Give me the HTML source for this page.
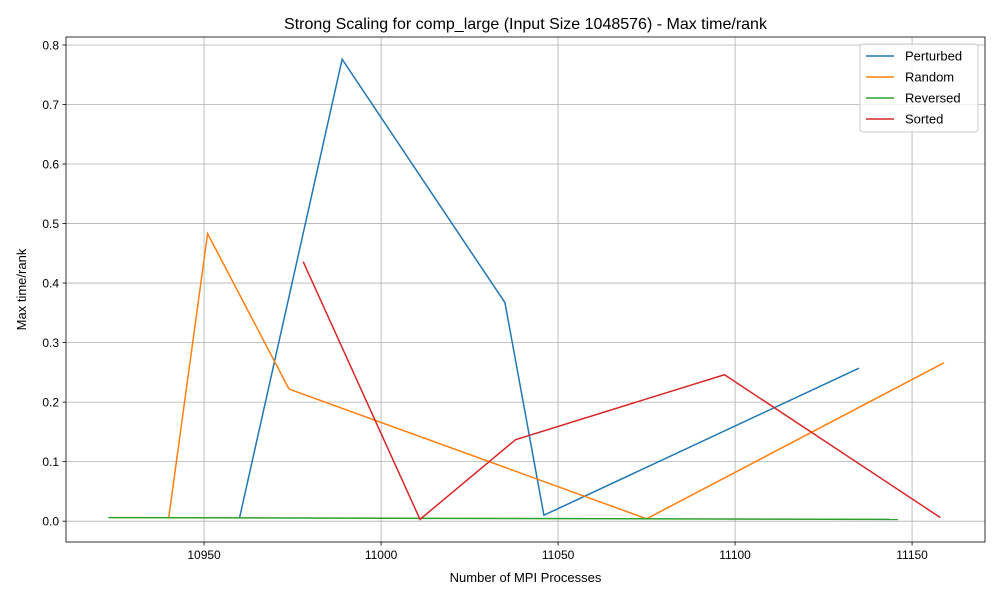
<!DOCTYPE html>
<html><head><meta charset="utf-8"><style>
body{margin:0;background:#fff;}
svg text{font-family:"Liberation Sans","DejaVu Sans",sans-serif;fill:#000;}
</style></head><body>
<svg id="chart" width="1000" height="600" xmlns="http://www.w3.org/2000/svg">
<rect width="1000" height="600" fill="#fff"/>
<g id="grid"></g><g id="series"></g><g id="axes"></g>
</svg>
<script>
const seriesNames=["Perturbed","Random","Reversed","Sorted"];
const seriesColors=["#1f77b4","#ff7f0e","#2ca02c","#d62728"];
const perturbedX=[10960,10989,11035,11046,11135];
const perturbedY=[0.005,0.776,0.367,0.010,0.257];
const randomX=[10940,10951,10974,11075,11159];
const randomY=[0.005,0.483,0.222,0.004,0.266];
const reversedX=[10923,11146];
const reversedY=[0.006,0.003];
const sortedX=[10978,11011,11038,11097,11158];
const sortedY=[0.436,0.003,0.137,0.246,0.006];
const xTicks=[10950,11000,11050,11100,11150];
const yTicks=[0.0,0.1,0.2,0.3,0.4,0.5,0.6,0.7,0.8];

const L=66,R=985,T=37,B=542;
const xMin=10911.0,xMax=11170.6,yMin=-0.035,yMax=0.8134;
const sx=v=>L+(v-xMin)/(xMax-xMin)*(R-L);
const sy=v=>B-(v-yMin)/(yMax-yMin)*(B-T);
const NS="http://www.w3.org/2000/svg";
function mk(tag,attrs,parent){const e=document.createElementNS(NS,tag);for(const k in attrs)e.setAttribute(k,attrs[k]);parent.appendChild(e);return e;}
const grid=document.getElementById('grid'),axes=document.getElementById('axes'),ser=document.getElementById('series');
xTicks.forEach(t=>{const x=sx(t);
 const g=mk('line',{x1:x,x2:x,y1:T,y2:B,stroke:'#b0b0b0','stroke-width':0.8},grid);
 
 
 mk('line',{x1:x,x2:x,y1:B,y2:B+3.5,stroke:'#000','stroke-width':0.8},axes);
 const tx=mk('text',{x:x,y:B+17,'text-anchor':'middle','font-size':12},axes);tx.textContent=t;
 
 
});
yTicks.forEach(t=>{const y=sy(t);
 const g=mk('line',{x1:L,x2:R,y1:y,y2:y,stroke:'#b0b0b0','stroke-width':0.8},grid);
 
 
 mk('line',{x1:L-3.5,x2:L,y1:y,y2:y,stroke:'#000','stroke-width':0.8},axes);
 const tx=mk('text',{x:L-7,y:y+4.5,'text-anchor':'end','font-size':12},axes);tx.textContent=t.toFixed(1);
 
 
});
const frame=mk('rect',{x:L,y:T,width:R-L,height:B-T,fill:'none',stroke:'#000','stroke-width':0.8},axes);


const xs=[perturbedX,randomX,reversedX,sortedX],ys=[perturbedY,randomY,reversedY,sortedY];
xs.forEach((X,i)=>{
 const p=mk('polyline',{points:X.map((v,j)=>sx(v)+','+sy(ys[i][j])).join(' '),fill:'none',stroke:seriesColors[i],'stroke-width':1.5},ser);
 
 
});
const title=mk('text',{x:(L+R)/2,y:29,'text-anchor':'middle','font-size':16},axes);
title.textContent="Strong Scaling for comp_large (Input Size 1048576) - Max time/rank";


const xl=mk('text',{x:(L+R)/2,y:582,'text-anchor':'middle','font-size':13},axes);
xl.textContent="Number of MPI Processes";


const yl=mk('text',{x:0,y:0,'text-anchor':'middle','font-size':13,transform:'translate(26,'+((T+B)/2)+') rotate(-90)'},axes);
yl.textContent="Max time/rank";


const lg=mk('g',{},axes);


mk('rect',{x:860,y:44,width:118,height:88,rx:3,fill:'#fff','fill-opacity':0.8,stroke:'#ccc'},lg);
seriesNames.forEach((n,i)=>{const y=56+i*21;
 const e=mk('g',{},lg);
 
 
 mk('line',{x1:866,x2:894,y1:y,y2:y,stroke:seriesColors[i],'stroke-width':1.5},e);
 const t=mk('text',{x:905,y:y+4.5,'font-size':13},e);t.textContent=n;
});
</script>
</body></html>
